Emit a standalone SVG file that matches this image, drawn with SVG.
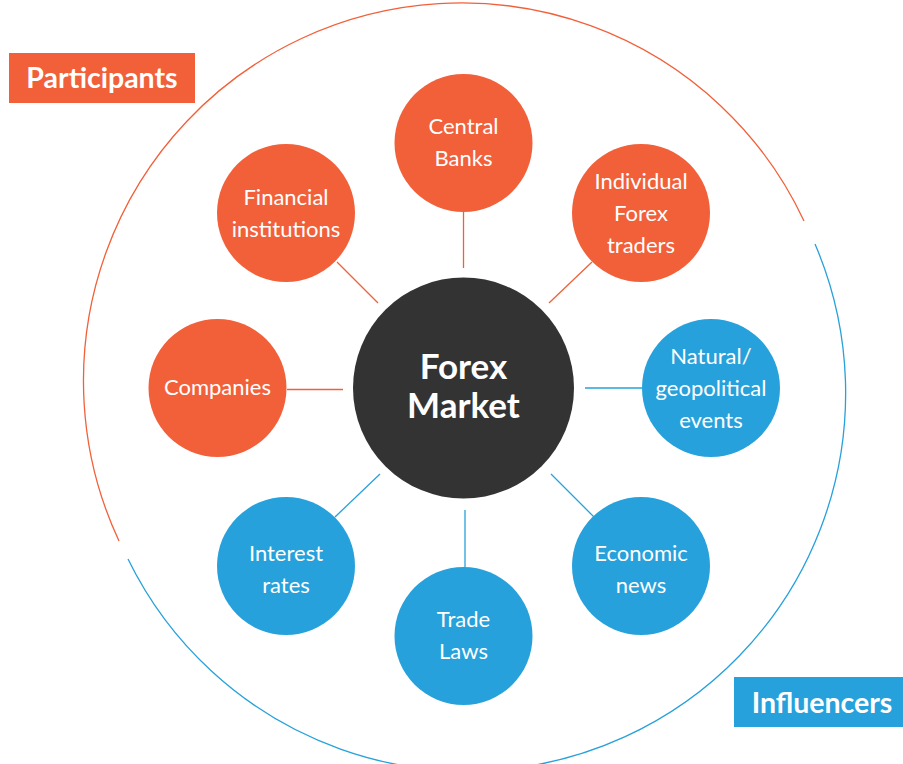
<svg xmlns="http://www.w3.org/2000/svg" width="903" height="764" viewBox="0 0 903 764">
<style>
.o{fill:#F2603A}
.b{fill:#27A1DB}
.t{font-family:Lato,"Open Sans","Liberation Sans",sans-serif;font-size:22px;fill:#fff;text-anchor:middle}
.lo{stroke:#F2603A;stroke-width:1.3;fill:none}
.lb{stroke:#27A1DB;stroke-width:1.3;fill:none}
.lab{font-family:Lato,"Open Sans","Liberation Sans",sans-serif;font-size:28.5px;font-weight:bold;fill:#fff;text-anchor:middle}
.fm{font-family:Lato,"Open Sans","Liberation Sans",sans-serif;font-size:35px;font-weight:bold;fill:#fff;text-anchor:middle}
</style>
<rect width="903" height="764" fill="#fff"/>
<g id="outer">
<path class="lo" d="M119,541 A378,378 0 0 1 804,221"/>
<path class="lb" d="M815,244 A378,378 0 0 1 128,559"/>
</g>
<g id="connectors">
<line class="lo" x1="463.5" y1="212" x2="463.5" y2="268"/>
<line class="lo" x1="337" y1="262" x2="378" y2="303"/>
<line class="lo" x1="592" y1="262" x2="549" y2="303"/>
<line class="lo" x1="287" y1="389.5" x2="343" y2="389.5"/>
<line class="lb" x1="585" y1="388" x2="642" y2="388"/>
<line class="lb" x1="551" y1="474" x2="594" y2="517"/>
<line class="lb" x1="465" y1="510" x2="465" y2="568"/>
<line class="lb" x1="380" y1="474" x2="335" y2="517"/>
</g>
<g id="participants-label">
<rect x="9" y="53" width="186" height="50" class="o"/>
<text class="lab" x="102" y="88">Participants</text>
</g>
<g id="influencers-label">
<rect x="734" y="677" width="169" height="50" class="b"/>
<text class="lab" x="822" y="713">Influencers</text>
</g>
<g id="forex-market">
<circle cx="463.5" cy="388" r="110.5" fill="#333333"/>
<text class="fm" x="463.5" y="379">Forex</text>
<text class="fm" x="463.5" y="418">Market</text>
</g>
<g id="central-banks">
<circle cx="463.5" cy="143" r="69" class="o"/>
<text class="t" x="463.5" y="134">Central</text>
<text class="t" x="463.5" y="166">Banks</text>
</g>
<g id="individual-forex-traders">
<circle cx="641" cy="213" r="69" class="o"/>
<text class="t" x="641" y="189">Individual</text>
<text class="t" x="641" y="221">Forex</text>
<text class="t" x="641" y="253">traders</text>
</g>
<g id="financial-institutions">
<circle cx="286" cy="213" r="69" class="o"/>
<text class="t" x="286" y="205">Financial</text>
<text class="t" x="286" y="237">institutions</text>
</g>
<g id="companies">
<circle cx="217.5" cy="388" r="69" class="o"/>
<text class="t" x="217.5" y="395">Companies</text>
</g>
<g id="natural-geopolitical-events">
<circle cx="711" cy="388" r="69" class="b"/>
<text class="t" x="711" y="364">Natural/</text>
<text class="t" x="711" y="396">geopolitical</text>
<text class="t" x="711" y="428">events</text>
</g>
<g id="economic-news">
<circle cx="641" cy="566" r="69" class="b"/>
<text class="t" x="641" y="561">Economic</text>
<text class="t" x="641" y="593">news</text>
</g>
<g id="trade-laws">
<circle cx="463.5" cy="636" r="69" class="b"/>
<text class="t" x="463.5" y="627">Trade</text>
<text class="t" x="463.5" y="659">Laws</text>
</g>
<g id="interest-rates">
<circle cx="286" cy="566" r="69" class="b"/>
<text class="t" x="286" y="561">Interest</text>
<text class="t" x="286" y="593">rates</text>
</g>
</svg>
